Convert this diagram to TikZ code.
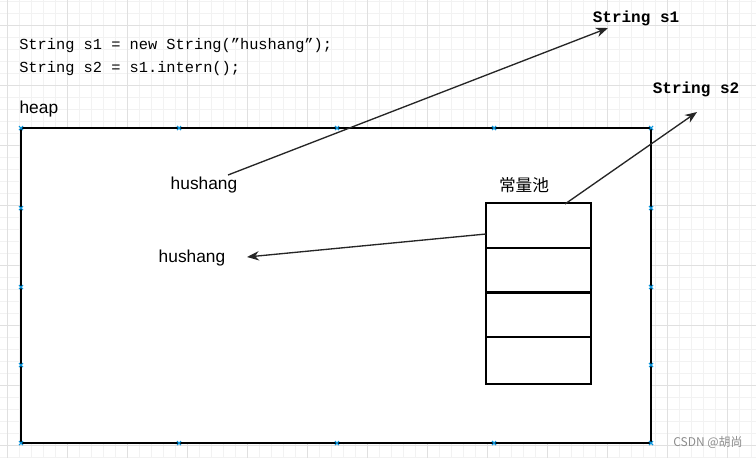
\documentclass[tikz,border=0pt]{standalone}
\usepackage{fontspec}
\setmainfont{Liberation Sans}
\newfontfamily\cjk{Noto Sans CJK SC}
\newfontfamily\mono{Liberation Mono}
\usetikzlibrary{arrows.meta}
\begin{document}
\begin{tikzpicture}[x=0.75pt,y=-0.75pt,
  box/.style={draw=black,line width=1.5pt},
  arr/.style={draw=black!85,line width=1pt,-{Stealth[length=9pt,width=7pt]}},
  lab/.style={font=\fontsize{13}{13}\selectfont,inner sep=1pt}]
\useasboundingbox (0,0) rectangle (756,458);
\foreach \x in {7,19,...,756} \draw[black!5,line width=0.4pt] (\x,0)--(\x,458);
\foreach \y in {1,13,...,458} \draw[black!5,line width=0.4pt] (0,\y)--(756,\y);
\foreach \x in {7,67,...,756} \draw[black!12,line width=0.5pt] (\x,0)--(\x,458);
\foreach \y in {25,85,...,458} \draw[black!12,line width=0.5pt] (0,\y)--(756,\y);
\fill[white] (21,128) rectangle (651,443);
\draw[box] (21,128) rectangle (651,443);
\newcommand\mkx[2]{\draw[cyan!80!blue,line width=0.8pt] (#1-2,#2-2)--(#1+2,#2+2) (#1-2,#2+2)--(#1+2,#2-2);}
\foreach \x in {21,179,337,494,651} {\mkx{\x}{128}\mkx{\x}{443}}
\foreach \y in {208,287,365} {\mkx{21}{\y}\mkx{651}{\y}}
\node[anchor=west,font=\mono\fontsize{11.5}{11.5}\selectfont,inner sep=0pt] (c1) at (19,46) {String s1 = new String(”hushang”);};
\node[anchor=west,font=\mono\fontsize{11.5}{11.5}\selectfont,inner sep=0pt] (c2) at (19,69) {String s2 = s1.intern();};
\node[lab,anchor=west] (heap) at (18,109) {heap};
\node[box,minimum width=105pt*0.75,minimum height=45pt*0.75,inner sep=0pt] (p1) at (538.5,225.5) {};
\node[box,minimum width=105pt*0.75,minimum height=45pt*0.75,inner sep=0pt] (p2) at (538.5,270) {};
\node[box,minimum width=105pt*0.75,minimum height=45pt*0.75,inner sep=0pt] (p3) at (538.5,314.5) {};
\node[box,minimum width=105pt*0.75,minimum height=47pt*0.75,inner sep=0pt] (p4) at (538.5,360.5) {};
\node[font=\cjk\fontsize{12.5}{12.5}\selectfont] (pool) at (524,185) {常量池};
\node[lab] (h1) at (204,185) {hushang};
\node[lab] (h2) at (192,258) {hushang};
\node[font=\mono\bfseries\fontsize{12}{12}\selectfont] (s1) at (636,18) {String s1};
\node[font=\mono\bfseries\fontsize{12}{12}\selectfont] (s2) at (696,89) {String s2};
\coordinate (a1) at (228,175); \coordinate (e1) at (608,28);
\coordinate (a2) at (565,204); \coordinate (e2) at (697,112);
\coordinate (a3) at (486,234); \coordinate (e3) at (247,257);
\draw[arr] (a1)--(e1);
\draw[arr] (a2)--(e2);
\draw[arr] (a3)--(e3);
\node[text=black!45,font=\cjk\fontsize{9}{9}\selectfont] (w) at (708,442) {CSDN @胡尚};
\end{tikzpicture}
\end{document}
